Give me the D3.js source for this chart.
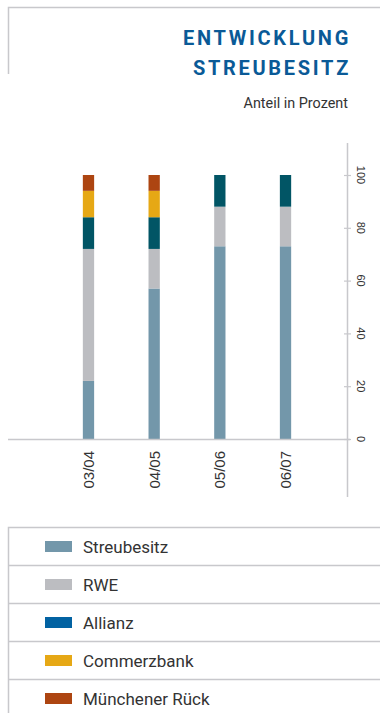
<!DOCTYPE html>
<html>
<head>
<meta charset="utf-8">
<script src="https://cdn.jsdelivr.net/npm/d3@7"></script>
<style>
  body { margin: 0; background: #fff; }
  svg { display: block; }
</style>
</head>
<body>
<div id="chart"></div>
<script>
// data
const years = ["03/04", "04/05", "05/06", "06/07"];
const seriesNames = ["Streubesitz", "RWE", "Allianz", "Commerzbank", "Münchener Rück"];
const streubesitz = [22, 57, 73, 73];
const rwe = [50, 15, 15, 15];
const allianz = [12, 12, 12, 12];
const commerzbank = [10, 10, 0, 0];
const muenchener = [6, 6, 0, 0];
const yTicks = [0, 20, 40, 60, 80, 100];

const barColors = ["#7397aa", "#bcbdc1", "#015565", "#e6a815", "#ad4511"];
const legendColors = ["#7397aa", "#bcbdc1", "#0262a2", "#e6a815", "#ad4511"];

const W = 380, H = 713;
const svg = d3.select("#chart").append("svg")
    .attr("width", W)
    .attr("height", H);

const lineCol = "#c8c8cc";

// header frame
svg.append("path")
    .attr("d", "M8.5,74 V7.5 H380")
    .attr("fill", "none")
    .attr("stroke", lineCol)
    .attr("stroke-width", 1.5);

const title = svg.append("text")
    .attr("text-anchor", "end")
    .attr("font-family", "Roboto, sans-serif")
    .attr("font-weight", "bold")
    .attr("font-size", 20)
    .attr("letter-spacing", 2.7)
    .attr("fill", "#0a5a97");
title.append("tspan").attr("x", 351).attr("y", 45).text("ENTWICKLUNG");
title.append("tspan").attr("x", 351).attr("y", 75).text("STREUBESITZ");

svg.append("text")
    .attr("x", 348).attr("y", 108)
    .attr("text-anchor", "end")
    .attr("font-family", "Roboto, sans-serif")
    .attr("font-size", 14.4)
    .attr("fill", "#333")
    .text("Anteil in Prozent");

// scales
const y = d3.scaleLinear().domain([0, 100]).range([439, 175]);
const x = d3.scaleBand().domain(years).range([50, 324]).paddingInner(0.828).paddingOuter(0.5);

// stack
const rows = years.map((yr, i) => ({
    year: yr,
    "Streubesitz": streubesitz[i],
    "RWE": rwe[i],
    "Allianz": allianz[i],
    "Commerzbank": commerzbank[i],
    "Münchener Rück": muenchener[i]
}));
const stacked = d3.stack().keys(seriesNames)(rows);

const g = svg.append("g");
g.selectAll("g.series")
    .data(stacked)
    .enter().append("g")
    .attr("class", "series")
    .attr("fill", (d, i) => barColors[i])
    .selectAll("rect")
    .data(d => d.filter(v => v[1] - v[0] > 0))
    .enter().append("rect")
    .attr("x", d => x(d.data.year))
    .attr("width", x.bandwidth())
    .attr("y", d => y(d[1]))
    .attr("height", d => y(d[0]) - y(d[1]));

// baseline
svg.append("line")
    .attr("x1", 8).attr("x2", 350)
    .attr("y1", y(0) + 0.5).attr("y2", y(0) + 0.5)
    .attr("stroke", lineCol).attr("stroke-width", 1.5);

// y axis
const axisX = 347;
svg.append("line")
    .attr("x1", axisX + 0.5).attr("x2", axisX + 0.5)
    .attr("y1", 143).attr("y2", 497)
    .attr("stroke", lineCol).attr("stroke-width", 1.5);

svg.selectAll("line.ytick")
    .data(yTicks)
    .enter().append("line")
    .attr("class", "ytick")
    .attr("x1", axisX - 3).attr("x2", axisX + 4)
    .attr("y1", d => y(d) + 0.5).attr("y2", d => y(d) + 0.5)
    .attr("stroke", lineCol).attr("stroke-width", 1.2);

svg.selectAll("text.ylab")
    .data(yTicks)
    .enter().append("text")
    .attr("class", "ylab")
    .attr("transform", d => `translate(${axisX + 10},${y(d)}) rotate(90)`)
    .attr("text-anchor", "middle")
    .attr("font-family", "Liberation Sans, Arial, sans-serif")
    .attr("font-size", 11)
    .attr("fill", "#333")
    .text(d => d);

// x labels
svg.selectAll("text.xlab")
    .data(years)
    .enter().append("text")
    .attr("class", "xlab")
    .attr("transform", d => `translate(${x(d) + x.bandwidth() / 2 + 5.5},${y(0) + 12}) rotate(-90)`)
    .attr("text-anchor", "end")
    .attr("font-family", "Liberation Sans, Arial, sans-serif")
    .attr("font-size", 15)
    .attr("fill", "#333")
    .text(d => d);

// legend
const legTop = 527, rowH = 38;
svg.append("path")
    .attr("d", `M8.5,${H} V${legTop + 0.5} H${W}`)
    .attr("fill", "none")
    .attr("stroke", lineCol)
    .attr("stroke-width", 1.5);

const leg = svg.selectAll("g.leg")
    .data(seriesNames)
    .enter().append("g")
    .attr("class", "leg")
    .attr("transform", (d, i) => `translate(0,${legTop + i * rowH})`);

leg.filter((d, i) => i > 0).append("line")
    .attr("x1", 8).attr("x2", W)
    .attr("y1", 0.5).attr("y2", 0.5)
    .attr("stroke", lineCol).attr("stroke-width", 1.5);

leg.append("rect")
    .attr("x", 45).attr("y", 14)
    .attr("width", 27).attr("height", 11)
    .attr("fill", (d, i) => legendColors[i]);

leg.append("text")
    .attr("x", 83).attr("y", 26)
    .attr("font-family", "Roboto, sans-serif")
    .attr("font-size", 17)
    .attr("fill", "#333")
    .text(d => d);
</script>
</body>
</html>
